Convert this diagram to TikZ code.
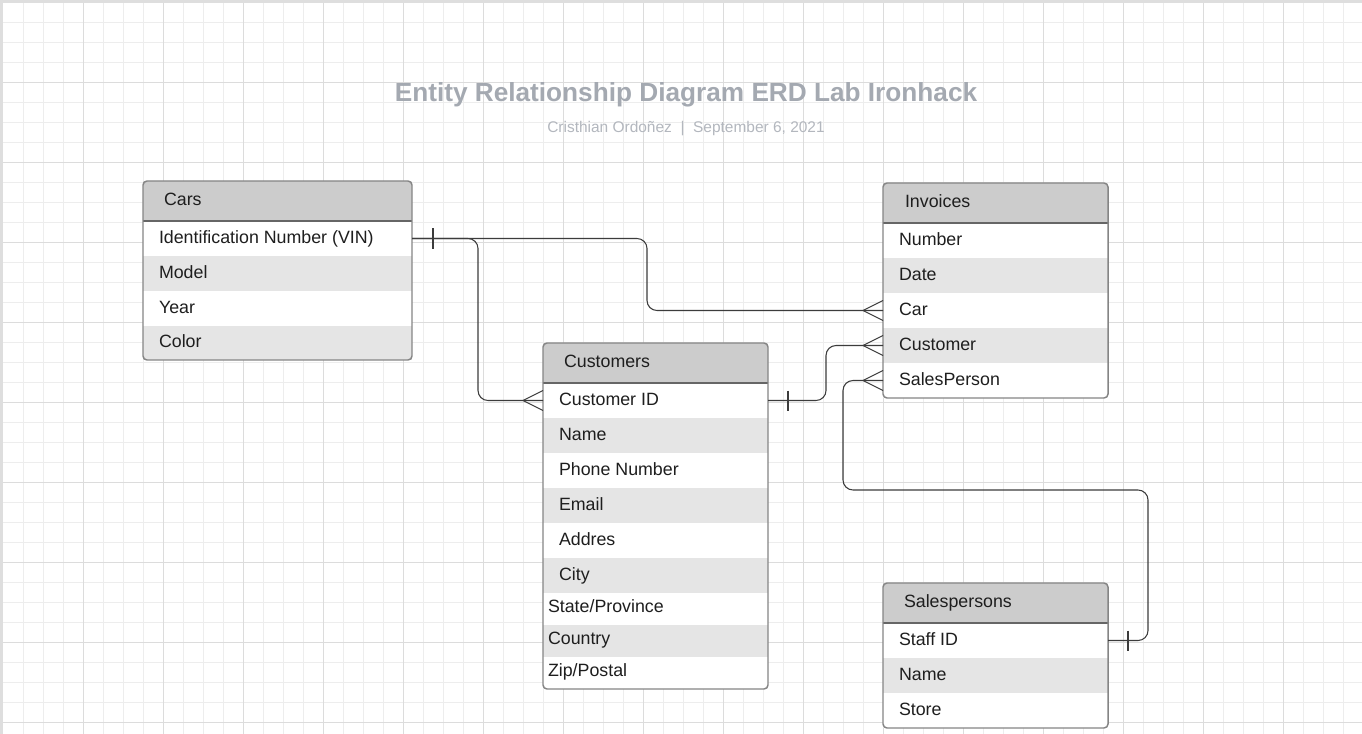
\documentclass[tikz,border=0pt]{standalone}
\usepackage{fontspec}
\setmainfont{Liberation Sans}
\usetikzlibrary{calc}
\definecolor{gridminor}{HTML}{EDEDED}
\definecolor{gridmajor}{HTML}{DCDCDC}
\definecolor{framegray}{HTML}{DEDEDE}
\definecolor{hdrfill}{HTML}{CCCCCC}
\definecolor{altfill}{HTML}{E5E5E5}
\definecolor{tblborder}{HTML}{858585}
\definecolor{sepcol}{HTML}{666666}
\definecolor{titlegray}{HTML}{A4A9B1}
\definecolor{subgray}{HTML}{B3B7BE}
\definecolor{linecol}{HTML}{3C3C3C}
\definecolor{txtcol}{HTML}{1E1E1E}

\newcommand{\erdhead}[6]{%
  \fill[hdrfill] (#2,#3+40) [rounded corners=3pt] -- (#2,#3) -- (#2+#4,#3) [sharp corners] -- (#2+#4,#3+40) -- cycle;
  \node[inner sep=0pt, outer sep=0pt, minimum width=#4*0.75pt, minimum height=40*0.75pt, anchor=north west] (#1-h) at (#2,#3) {};
  \node[celltext] (#1-title) at (#5,#3+24.5) {#6};
}
\newcommand{\erdrow}[9]{%
  \node[rowbox, fill=#6, minimum width=#4*0.75pt, minimum height=#5*0.75pt] (#1) at (#2,#3) {};
  \node[celltext] (#1-t) at (#7,#3+#5/2+#8) {#9};
}
\newcommand{\erdframe}[5]{%
  \draw[sepline] (#1-h.south west) -- (#1-h.south east);
  \node[tblframe, minimum width=#4*0.75pt, minimum height=#5*0.75pt] (#1) at (#2,#3) {};
}
\newcommand{\crowfoot}[1]{%
  \draw[conn] ($(#1.west)+(-20,0)$) -- ($(#1.west)+(0,-10)$)
              ($(#1.west)+(-20,0)$) -- ($(#1.west)+(0,10)$);
}
\newcommand{\onebar}[2]{%
  \draw[conn] ($(#1.east)+(#2,-10)$) -- ($(#1.east)+(#2,10)$);
}

\begin{document}
\begin{tikzpicture}[x=0.75pt,y=-0.75pt,
  rowbox/.style={inner sep=0pt, outer sep=0pt, anchor=north west},
  celltext/.style={inner sep=0pt, outer sep=0pt, anchor=base west, text=txtcol, font=\fontsize{13.35}{15}\selectfont},
  tblframe/.style={draw=tblborder, line width=1.1pt, rounded corners=3pt, inner sep=0pt, outer sep=0pt, anchor=north west},
  sepline/.style={draw=sepcol, line width=1.1pt},
  conn/.style={draw=linecol, line width=0.8pt, rounded corners=7.5pt},
  gminor/.style={draw=gridminor, line width=0.75pt},
  gmajor/.style={draw=gridmajor, line width=0.75pt}]
\useasboundingbox (0,0) rectangle (1362,734);
\fill[white] (0,0) rectangle (1362,734);
% grid
\foreach \x in {23,43,...,1343} \draw[gminor] (\x,0) -- (\x,734);
\foreach \y in {22.7,42.7,...,722.7} \draw[gminor] (0,\y) -- (1362,\y);
\foreach \x in {83,163,...,1323} \draw[gmajor] (\x,0) -- (\x,734);
\foreach \y in {82.7,162.7,...,722.7} \draw[gmajor] (0,\y) -- (1362,\y);
\fill[framegray] (0,0) rectangle (3,734);
\fill[framegray] (0,0) rectangle (1362,2.6);

% title
\node[inner sep=0pt, anchor=base, text=titlegray, font=\bfseries\fontsize{19.65}{22}\selectfont] (title) at (686,101.5) {Entity Relationship Diagram ERD Lab Ironhack};
\node[inner sep=0pt, anchor=base, text=subgray, font=\fontsize{11.6}{14}\selectfont] (subtitle) at (686,132.5) {Cristhian Ordoñez \ | \ September 6, 2021};

% Cars
\erdhead{cars}{143}{181}{269}{164}{Cars}
\erdrow{cars-vin}{143}{221}{269}{35}{white}{159}{4.8}{Identification Number (VIN)}
\erdrow{cars-model}{143}{256}{269}{35}{altfill}{159}{4.8}{Model}
\erdrow{cars-year}{143}{291}{269}{35}{white}{159}{4.8}{Year}
\erdrow{cars-color}{143}{326}{269}{34}{altfill}{159}{4.8}{Color}
\erdframe{cars}{143}{181}{269}{179}

% Invoices
\erdhead{inv}{883}{183}{225}{905}{Invoices}
\erdrow{inv-num}{883}{223}{225}{35}{white}{899}{4.8}{Number}
\erdrow{inv-date}{883}{258}{225}{35}{altfill}{899}{4.8}{Date}
\erdrow{inv-car}{883}{293}{225}{35}{white}{899}{4.8}{Car}
\erdrow{inv-cus}{883}{328}{225}{35}{altfill}{899}{4.8}{Customer}
\erdrow{inv-sp}{883}{363}{225}{35}{white}{899}{4.8}{SalesPerson}
\erdframe{inv}{883}{183}{225}{215}

% Customers
\erdhead{cus}{543}{343}{225}{564}{Customers}
\erdrow{cus-id}{543}{383}{225}{35}{white}{559}{4.8}{Customer ID}
\erdrow{cus-name}{543}{418}{225}{35}{altfill}{559}{4.8}{Name}
\erdrow{cus-phone}{543}{453}{225}{35}{white}{559}{4.8}{Phone Number}
\erdrow{cus-email}{543}{488}{225}{35}{altfill}{559}{4.8}{Email}
\erdrow{cus-addr}{543}{523}{225}{35}{white}{559}{4.8}{Addres}
\erdrow{cus-city}{543}{558}{225}{35}{altfill}{559}{4.8}{City}
\erdrow{cus-state}{543}{593}{225}{32}{white}{548}{3.5}{State/Province}
\erdrow{cus-country}{543}{625}{225}{32}{altfill}{548}{3.5}{Country}
\erdrow{cus-zip}{543}{657}{225}{32}{white}{548}{3.5}{Zip/Postal}
\erdframe{cus}{543}{343}{225}{346}

% Salespersons
\erdhead{sp}{883}{583}{225}{904}{Salespersons}
\erdrow{sp-id}{883}{623}{225}{35}{white}{899}{4.8}{Staff ID}
\erdrow{sp-name}{883}{658}{225}{35}{altfill}{899}{4.8}{Name}
\erdrow{sp-store}{883}{693}{225}{35}{white}{899}{4.8}{Store}
\erdframe{sp}{883}{583}{225}{145}

% connectors
\coordinate (k1) at (647,0);
\coordinate (k2) at (478,0);
\coordinate (k3) at (826,0);
\coordinate (k4) at (1148,490);
\coordinate (k5) at (843,0);
\draw[conn] (cars-vin.east) -| (k1 |- inv-car.west) -- (inv-car.west);
\draw[conn] (cars-vin.east) -| (k2 |- cus-id.west) -- (cus-id.west);
\draw[conn] (cus-id.east) -| (k3 |- inv-cus.west) -- (inv-cus.west);
\draw[conn] (sp-id.east) -| (k4) -| (k5 |- inv-sp.west) -- (inv-sp.west);
\onebar{cars-vin}{21}
\onebar{cus-id}{20}
\onebar{sp-id}{20}
\crowfoot{inv-car}
\crowfoot{cus-id}
\crowfoot{inv-cus}
\crowfoot{inv-sp}
\end{tikzpicture}
\end{document}
